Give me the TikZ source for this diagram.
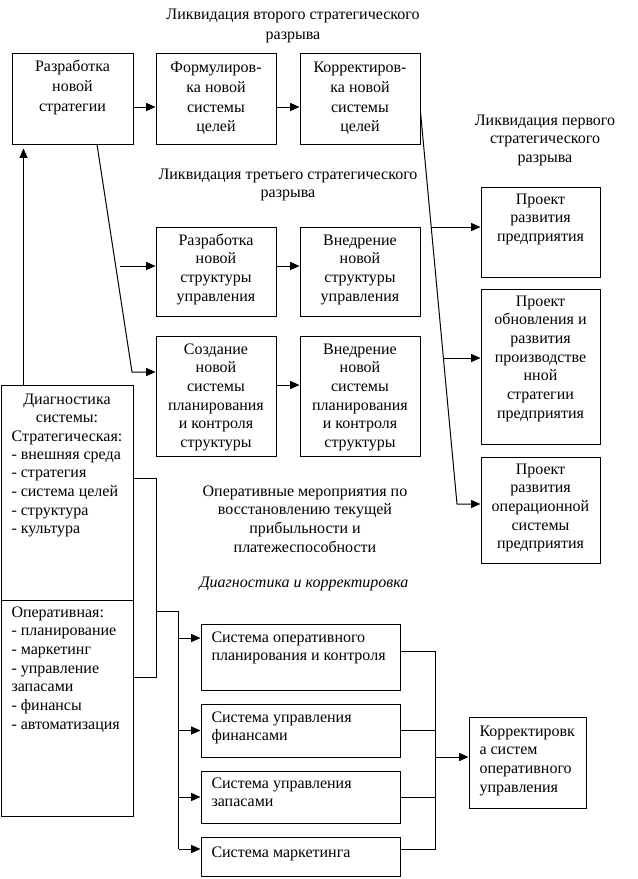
\documentclass[tikz,border=0pt]{standalone}
\usepackage{fontspec}
\setmainfont{Liberation Serif}
\usetikzlibrary{arrows.meta,fit}
\begin{document}
\begin{tikzpicture}[x=0.75pt,y=-0.75pt,line width=0.75pt,
  box/.style={draw,inner sep=0pt,fit={#1}},
  txt/.style={inner sep=0pt,align=center,anchor=north,font=\fontsize{12}{14}\selectfont},
  wtxt/.style={txt,font=\fontsize{12}{14.75}\selectfont},
  ltxt/.style={inner sep=0pt,align=left,anchor=north west,font=\fontsize{12}{14}\selectfont},
  arr/.style={-{Triangle[length=7pt,width=6pt]}}]
\fill[white] (0,0) rectangle (638,879);
\useasboundingbox (0,0) rectangle (638,879);
% boxes
\node[box={(12,53) (133,144)}] (A) {};
\node[box={(156,53) (276,144)}] (B) {};
\node[box={(300,53) (420,144)}] (C) {};
\node[box={(156,227) (276,316)}] (D) {};
\node[box={(300,227) (420,316)}] (E) {};
\node[box={(156,336) (276,456)}] (F) {};
\node[box={(300,336) (420,456)}] (G) {};
\node[box={(481,187) (600,277)}] (M) {};
\node[box={(481,289) (600,444)}] (N) {};
\node[box={(481,457) (600,563)}] (O) {};
\node[box={(1,385) (133,600)}] (Dg1) {};
\node[box={(1,600) (133,816)}] (Dg2) {};
\node[box={(201,624) (400,690)}] (H) {};
\node[box={(201,704) (400,757)}] (I) {};
\node[box={(201,771) (400,823)}] (J) {};
\node[box={(201,837) (400,876)}] (K) {};
\node[box={(469,717) (586,808)}] (L) {};
% texts
\node[wtxt] (T2) at (293,5.5) {\strut Ликвидация второго стратегического\\разрыва};
\node[txt] (T3) at (288,165.5) {\strut Ликвидация третьего стратегического\\разрыва};
\node[txt] (T1) at (545,111.5) {\strut Ликвидация первого\\стратегического\\разрыва};
\node[wtxt] (At) at (72.5,57.5) {\strut Разработка\\новой\\стратегии};
\node[wtxt] (Bt) at (216,58.5) {\strut Формулиров-\\ка новой\\системы\\целей};
\node[wtxt] (Ct) at (360,58.5) {\strut Корректиров-\\ка новой\\системы\\целей};
\node[txt] (Dt) at (216,231.5) {\strut Разработка\\новой\\структуры\\управления};
\node[txt] (Et) at (360,231.5) {\strut Внедрение\\новой\\структуры\\управления};
\node[txt] (Ft) at (216,340.5) {\strut Создание\\новой\\системы\\планирования\\и контроля\\структуры};
\node[txt] (Gt) at (360,340.5) {\strut Внедрение\\новой\\системы\\планирования\\и контроля\\структуры};
\node[txt] (Mt) at (540.5,190.5) {\strut Проект\\развития\\предприятия};
\node[txt] (Nt) at (540.5,292.5) {\strut Проект\\обновления и\\развития\\производстве\\нной\\стратегии\\предприятия};
\node[txt] (Ot) at (540.5,460.5) {\strut Проект\\развития\\операционной\\системы\\предприятия};
\node[txt] (Dgh) at (67,390.5) {\strut Диагностика\\системы:\\Стратегическая:};
\node[ltxt] (Dgl) at (11,445.5) {\strut - внешняя среда\\- стратегия\\- система целей\\- структура\\- культура};
\node[ltxt] (Dg2t) at (11,603.5) {\strut Оперативная:\\- планирование\\- маркетинг\\- управление\\запасами\\- финансы\\- автоматизация};
\node[txt] (Opt) at (305,482.5) {\strut Оперативные мероприятия по\\восстановлению текущей\\прибыльности и\\платежеспособности};
\node[txt] (It) at (304,573.5) {\strut\itshape Диагностика и корректировка};
\node[ltxt] (Ht) at (211,628.5) {\strut Система оперативного\\планирования и контроля};
\node[ltxt] (It2) at (211,708.5) {\strut Система управления\\финансами};
\node[ltxt] (Jt) at (211,774.5) {\strut Система управления\\запасами};
\node[ltxt] (Kt) at (211,843.5) {\strut Система маркетинга};
\node[ltxt] (Lt) at (479,722.5) {\strut Корректировк\\а систем\\оперативного\\управления};
% top row arrows
\draw[arr] ([shift={(0,8.5)}]A.east) -- ([shift={(0,8.5)}]B.west);
\draw[arr] ([shift={(0,8.5)}]B.east) -- ([shift={(0,8.5)}]C.west);
% third gap
\coordinate (d0) at (120,266);
\draw[arr] (d0) -- (D.west |- d0);
\draw[arr] ([shift={(0,-5.5)}]D.east) -- ([shift={(0,-5.5)}]E.west);
\draw[arr] ([shift={(0,-11)}]F.east) -- ([shift={(0,-11)}]G.west);
\coordinate (k1) at (132,372);
\draw[arr] ([shift={(24.5,0)}]A.south) -- (k1) -- (F.west |- k1);
% diagnostics up
\coordinate (u0) at ([shift={(23,0)}]Dg1.north west);
\draw[arr,shorten >=3pt] (u0) -- (u0 |- A.south);
% first gap
\coordinate (c1) at ([shift={(0,13.5)}]C.east);
\coordinate (c2) at (457,504);
\path (c1) -- (c2) coordinate[pos=0.2934] (cm) coordinate[pos=0.6276] (cn);
\draw[arr] (c1) -- (c2) -- (O.west |- c2);
\draw[arr] (cm) -- (M.west |- cm);
\draw[arr] (cn) -- (N.west |- cn);
% bracket
\coordinate (b1) at ([shift={(0,-14.5)}]Dg1.east);
\coordinate (b2) at ([shift={(0,-31)}]Dg2.east);
\draw (b1) -- ++(23,0) coordinate (b1r) -- (b1r |- b2) -- (b2);
\path (b1r) ++(0,133) coordinate (t0);
\coordinate (hin) at ([shift={(0,-19)}]H.west);
\coordinate (iin) at (I.west);
\coordinate (jin) at (J.west);
\coordinate (kin) at ([shift={(0,-7.5)}]K.west);
\draw (t0) -- ++(22,0) coordinate (t1) -- (t1 |- kin);
\draw[arr] (t1 |- hin) -- (hin);
\draw[arr] (t1 |- iin) -- (iin);
\draw[arr] (t1 |- jin) -- (jin);
\draw[arr] (t1 |- kin) -- (kin);
% right bus
\coordinate (hout) at ([shift={(0,-6)}]H.east);
\coordinate (kout) at ([shift={(0,-7.5)}]K.east);
\coordinate (r0) at ([shift={(35,0)}]hout);
\coordinate (lin) at ([shift={(0,-5.5)}]L.west);
\draw (hout) -- (r0) -- (r0 |- kout) -- (kout);
\draw (I.east) -- (r0 |- I.east);
\draw (J.east) -- (r0 |- J.east);
\draw[arr] (r0 |- lin) -- (lin);
\end{tikzpicture}
\end{document}
